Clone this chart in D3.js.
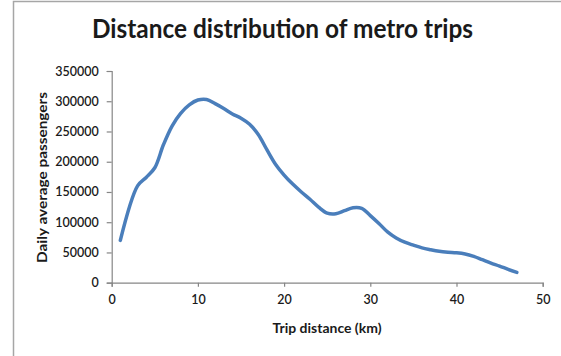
<!DOCTYPE html>
<html>
<head>
<meta charset="utf-8">
<script src="https://cdn.jsdelivr.net/npm/d3@7"></script>
<style>
  html, body { margin: 0; padding: 0; background: #fff; }
  svg { display: block; }
  text { font-family: Lato, "Open Sans", sans-serif; fill: #1a1a1a; }
</style>
</head>
<body>
<script>
// Trip distance (km) and daily average passengers at each distance
const distanceKm = [1, 3, 4, 5, 6, 7, 8, 9, 10, 11, 12, 13, 14, 15, 16, 17, 18, 19, 20,
  21, 22, 23, 24, 25, 26, 27, 28, 29, 30, 31, 32, 33, 34, 35, 36, 37, 38, 39, 40,
  41, 42, 43, 44, 45, 46, 47];
const passengers = [70000, 160000, 174000, 190000, 228000, 259000, 280000, 294000, 302000,
  303000, 296000, 288000, 279000, 272000, 262000, 245000, 220000, 196000, 178000,
  163000, 150000, 138000, 125000, 115000, 114000, 119000, 124000, 123000, 111000,
  98000, 84000, 74000, 67000, 62000, 57500, 54500, 52000, 50500, 49500,
  47500, 43500, 38000, 32500, 27500, 22000, 17000];

const xTicks = [0, 10, 20, 30, 40, 50];
const yTicks = [0, 50000, 100000, 150000, 200000, 250000, 300000, 350000];

const chartTitle = "Distance distribution of metro trips";
const xTitle = "Trip distance (km)";
const yTitle = "Daily average passengers";

const W = 561, H = 356;
const plot = { left: 111.7, right: 542.7, top: 71, bottom: 282.7 };

const svg = d3.select("body").append("svg").attr("width", W).attr("height", H);

// chart frame
svg.append("path")
  .attr("d", `M13.5,${H} V1.5 H${W}`)
  .attr("fill", "none")
  .attr("stroke", "#a6a6a6")
  .attr("stroke-width", 1.5);

const x = d3.scaleLinear().domain([0, 50]).range([plot.left, plot.right]);
const y = d3.scaleLinear().domain([0, 350000]).range([plot.bottom, plot.top]);

// axes
const xAxis = svg.append("g")
  .attr("transform", `translate(0,${plot.bottom})`)
  .call(d3.axisBottom(x).tickValues(xTicks).tickSize(4).tickPadding(8).tickFormat(d3.format("d")));
const yAxis = svg.append("g")
  .attr("transform", `translate(${plot.left},0)`)
  .call(d3.axisLeft(y).tickValues(yTicks).tickSize(5).tickPadding(8).tickFormat(d3.format("d")));

[xAxis, yAxis].forEach(g => {
  g.select(".domain").attr("stroke", "#868686").attr("stroke-width", 1.2);
  g.selectAll(".tick line").attr("stroke", "#868686").attr("stroke-width", 1.2);
  g.selectAll(".tick text")
    .attr("fill", "#1a1a1a")
    .style("font-family", "Lato, sans-serif")
    .style("font-size", "12.5px")
    .style("font-weight", "600");
});

// curve
const line = d3.line()
  .x((d, i) => x(distanceKm[i]))
  .y(d => y(d))
  .curve(d3.curveCatmullRom.alpha(0.5));

svg.append("path")
  .attr("d", line(passengers))
  .attr("fill", "none")
  .attr("stroke", "#4a7ebb")
  .attr("stroke-width", 3.5)
  .attr("stroke-linecap", "round")
  .attr("stroke-linejoin", "round");

// titles
svg.append("text")
  .attr("x", 282.5).attr("y", 38)
  .attr("text-anchor", "middle")
  .attr("textLength", 381).attr("lengthAdjust", "spacingAndGlyphs")
  .style("font-size", "26px").style("font-weight", "700")
  .text(chartTitle);

svg.append("text")
  .attr("x", 327).attr("y", 333)
  .attr("text-anchor", "middle")
  .attr("textLength", 109).attr("lengthAdjust", "spacingAndGlyphs")
  .style("font-size", "12.5px").style("font-weight", "700")
  .text(xTitle);

svg.append("text")
  .attr("transform", "translate(47,177.5) rotate(-90)")
  .attr("text-anchor", "middle")
  .attr("textLength", 171).attr("lengthAdjust", "spacingAndGlyphs")
  .style("font-size", "12.5px").style("font-weight", "700")
  .text(yTitle);
</script>
</body>
</html>
